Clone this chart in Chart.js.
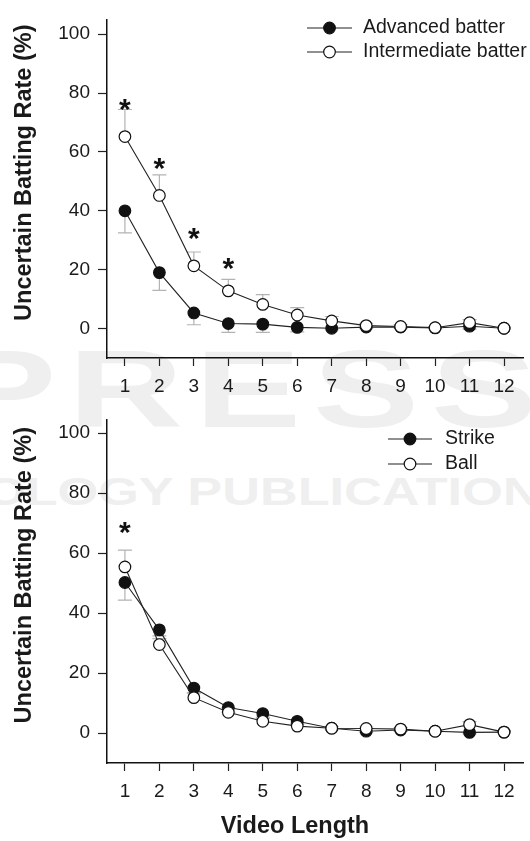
<!DOCTYPE html>
<html>
<head>
<meta charset="utf-8">
<script src="https://cdn.jsdelivr.net/npm/chart.js@4.4.1/dist/chart.umd.min.js"></script>
<style>
  html, body { margin: 0; padding: 0; background: #fff; }
  #page { position: relative; width: 530px; height: 841px; overflow: hidden; }
  canvas { display: block; position: relative; }
  .wm { position: absolute; font-family: 'Liberation Sans', Arial, sans-serif; font-weight: bold; color: #efefef; white-space: nowrap; line-height: 1; transform-origin: 0 0; }
</style>
</head>
<body>
<div id="page">
  <div class="wm" style="left:-50px;top:334px;font-size:110px;letter-spacing:8px;transform:scaleX(1.45)">PRESS</div>
  <div class="wm" style="left:-15px;top:472px;font-size:39px;transform:scaleX(1.34)">OLOGY PUBLICATION</div>
  <canvas id="batter-chart" width="530" height="400"></canvas>
  <canvas id="pitch-chart" width="530" height="441"></canvas>
</div>
<script>
const FONT = "'Liberation Sans', Arial, Helvetica, sans-serif";

const videoLength = [1, 2, 3, 4, 5, 6, 7, 8, 9, 10, 11, 12];
const rateTicks = [0, 20, 40, 60, 80, 100];

// top panel: batter skill
const advancedRate = [40, 19, 5.3, 1.7, 1.5, 0.4, 0.1, 0.5, 0.5, 0.2, 0.8, 0.1];
const advancedErr = [7.5, 6, 4, 3, 2.8, 1.5, 0.5, 0.5, 0.5, 0.3, 1, 0.3];
const intermediateRate = [65.2, 45.2, 21.3, 12.8, 8.2, 4.6, 2.6, 1, 0.7, 0.3, 2, 0.1];
const intermediateErr = [9.2, 7, 4.7, 3.9, 3.3, 2.5, 1.5, 0.8, 0.6, 0.4, 1, 0.3];
const batterSigAt = [1, 2, 3, 4];
const batterSigY = [77, 57, 33, 23];

// bottom panel: pitch type
const strikeRate = [50.2, 34.4, 15, 8.5, 6.5, 3.9, 1.6, 0.6, 1, 0.6, 0.2, 0.3];
const strikeErr = [5.9, 2, 1.5, 1.5, 1.2, 1, 0.5, 0.5, 0.5, 0.3, 0.5, 0.3];
const ballRate = [55.4, 29.5, 11.8, 6.9, 3.9, 2.3, 1.6, 1.5, 1.3, 0.6, 2.8, 0.3];
const ballErr = [5.6, 2, 1.5, 1.5, 1, 1, 0.5, 0.5, 0.5, 0.3, 1, 0.3];
const pitchSigAt = [1];
const pitchSigY = [69.5];

const toPoints = values => videoLength.map((v, i) => ({ x: v, y: values[i] }));

function series(label, values, errors, filled) {
  return {
    label,
    data: toPoints(values),
    errors,
    errorDir: filled ? -1 : 1,
    order: filled ? 1 : 0,
    borderColor: '#222',
    borderWidth: 1.1,
    pointRadius: 5.8,
    pointBorderWidth: 1.2,
    pointBorderColor: '#111',
    pointBackgroundColor: filled ? '#111' : '#fff',
    tension: 0
  };
}

const errorBars = {
  id: 'errorBars',
  beforeDatasetsDraw(chart) {
    const { ctx, scales: { x, y } } = chart;
    ctx.save();
    ctx.strokeStyle = '#b3b3b3';
    ctx.lineWidth = 1.2;
    chart.data.datasets.forEach(ds => {
      ds.data.forEach((p, i) => {
        const err = ds.errors[i];
        if (!err) return;
        const px = x.getPixelForValue(p.x);
        const y0 = y.getPixelForValue(p.y);
        const y1 = y.getPixelForValue(p.y + ds.errorDir * err);
        ctx.beginPath();
        ctx.moveTo(px, y0);
        ctx.lineTo(px, y1);
        ctx.moveTo(px - 7, y1);
        ctx.lineTo(px + 7, y1);
        ctx.stroke();
      });
    });
    ctx.restore();
  }
};

const sigMarks = {
  id: 'sigMarks',
  afterDatasetsDraw(chart, args, opts) {
    const { ctx, scales: { x, y } } = chart;
    ctx.save();
    ctx.fillStyle = '#111';
    ctx.font = 'bold 30px ' + FONT;
    ctx.textAlign = 'center';
    ctx.textBaseline = 'alphabetic';
    opts.at.forEach((v, i) => {
      ctx.fillText('*', x.getPixelForValue(v), y.getPixelForValue(opts.y[i]) + 17);
    });
    ctx.restore();
  }
};

const lineLegend = {
  id: 'lineLegend',
  afterDraw(chart, args, opts) {
    const ctx = chart.ctx;
    ctx.save();
    ctx.font = '19.5px ' + FONT;
    ctx.textBaseline = 'middle';
    ctx.textAlign = 'left';
    chart.data.datasets.forEach((ds, i) => {
      const y = opts.y + i * opts.rowHeight;
      const cx = opts.x + opts.lineLength / 2;
      ctx.strokeStyle = ds.borderColor;
      ctx.lineWidth = ds.borderWidth;
      ctx.beginPath();
      ctx.moveTo(opts.x, y);
      ctx.lineTo(opts.x + opts.lineLength, y);
      ctx.stroke();
      ctx.beginPath();
      ctx.arc(cx, y, ds.pointRadius, 0, Math.PI * 2);
      ctx.fillStyle = ds.pointBackgroundColor;
      ctx.fill();
      ctx.lineWidth = ds.pointBorderWidth;
      ctx.strokeStyle = ds.pointBorderColor;
      ctx.stroke();
      ctx.fillStyle = '#1a1a1a';
      ctx.fillText(ds.label, opts.x + opts.lineLength + opts.gap, y);
    });
    ctx.restore();
  }
};

// axis titles sit a little off the plot centre in the original
const axisTitles = {
  id: 'axisTitles',
  afterDraw(chart, args, opts) {
    const { ctx, chartArea } = chart;
    ctx.save();
    ctx.fillStyle = '#1a1a1a';
    ctx.font = 'bold 23.5px ' + FONT;
    ctx.textAlign = 'center';
    ctx.textBaseline = 'middle';
    ctx.translate(opts.yTitleX, (chartArea.top + chartArea.bottom) / 2 + opts.yShift);
    ctx.rotate(-Math.PI / 2);
    ctx.fillText(opts.yTitle, 0, 0);
    ctx.restore();
    if (opts.xTitle) {
      ctx.save();
      ctx.fillStyle = '#1a1a1a';
      ctx.font = 'bold 23.5px ' + FONT;
      ctx.textAlign = 'center';
      ctx.textBaseline = 'middle';
      ctx.fillText(opts.xTitle, (chartArea.left + chartArea.right) / 2 + opts.xShift, opts.xTitleY);
      ctx.restore();
    }
  }
};

function makeOptions(cfg) {
  return {
    responsive: false,
    animation: false,
    devicePixelRatio: 1,
    events: [],
    layout: { padding: { top: cfg.padTop, right: 3, left: 0, bottom: 0 } },
    scales: {
      x: {
        type: 'linear',
        min: 0.48,
        max: 12.55,
        afterBuildTicks: s => { s.ticks = videoLength.map(v => ({ value: v })); },
        afterFit: s => { s.height = cfg.xAxisHeight; },
        border: { color: '#111', width: 1.5 },
        grid: { drawOnChartArea: false, drawTicks: true, tickLength: 8, tickColor: '#222', tickWidth: 1.2 },
        ticks: { color: '#1a1a1a', font: { family: FONT, size: 19 }, padding: 9, maxRotation: 0, autoSkip: false }
      },
      y: {
        min: -10,
        max: cfg.yMax,
        afterBuildTicks: s => { s.ticks = rateTicks.map(v => ({ value: v })); },
        afterFit: s => { s.width = 107; },
        border: { color: '#111', width: 1.5 },
        grid: { drawOnChartArea: false, drawTicks: true, tickLength: 9, tickColor: '#222', tickWidth: 1.2 },
        ticks: { color: '#1a1a1a', font: { family: FONT, size: 19 }, padding: 8 }
      }
    },
    plugins: {
      legend: { display: false },
      tooltip: { enabled: false },
      lineLegend: cfg.legend,
      sigMarks: cfg.sig,
      axisTitles: cfg.titles
    }
  };
}

new Chart(document.getElementById('batter-chart'), {
  type: 'line',
  data: {
    datasets: [
      series('Advanced batter', advancedRate, advancedErr, true),
      series('Intermediate batter', intermediateRate, intermediateErr, false)
    ]
  },
  options: makeOptions({
    padTop: 7,
    xAxisHeight: 42,
    yMax: 105,
    legend: { x: 307, y: 28, rowHeight: 24, lineLength: 45, gap: 11 },
    sig: { at: batterSigAt, y: batterSigY },
    titles: { yTitle: 'Uncertain Batting Rate (%)', yTitleX: 25, yShift: -16 }
  }),
  plugins: [errorBars, sigMarks, lineLegend, axisTitles]
});

new Chart(document.getElementById('pitch-chart'), {
  type: 'line',
  data: {
    datasets: [
      series('Strike', strikeRate, strikeErr, true),
      series('Ball', ballRate, ballErr, false)
    ]
  },
  options: makeOptions({
    padTop: 13,
    xAxisHeight: 78,
    yMax: 104.6,
    legend: { x: 388, y: 39, rowHeight: 25, lineLength: 44, gap: 13 },
    sig: { at: pitchSigAt, y: pitchSigY },
    titles: { yTitle: 'Uncertain Batting Rate (%)', yTitleX: 25, yShift: -16, xTitle: 'Video Length', xShift: -20, xTitleY: 427 }
  }),
  plugins: [errorBars, sigMarks, lineLegend, axisTitles]
});
</script>
</body>
</html>
